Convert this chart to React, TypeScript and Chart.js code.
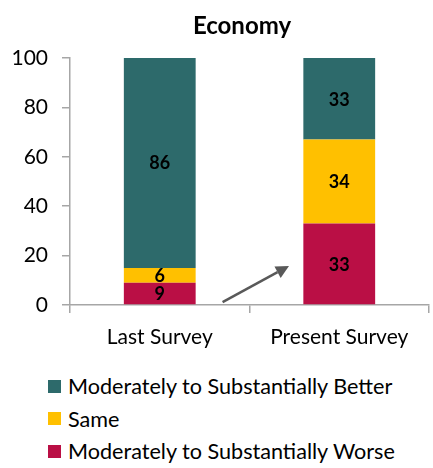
import React, { useEffect, useRef } from "react";
import { Chart, registerables } from "chart.js";

Chart.register(...registerables);

const TITLE = "Economy";
const CATEGORIES = ["Last Survey", "Present Survey"];
const SERIES_NAMES = [
  "Moderately to Substantially Worse",
  "Same",
  "Moderately to Substantially Better",
];
const WORSE = [9, 33];
const SAME = [6, 34];
const BETTER = [86, 33];
const COLORS = ["#BA0F45", "#FFC000", "#2D6A6B"];
const Y_TICKS = [0, 20, 40, 60, 80, 100];
// Trend arrow drawn in axis units: [category position, value]
const ARROW_FROM = [0.35, 1.2];
const ARROW_TO = [0.72, 15.8];

const FONT = "Lato, 'Open Sans', sans-serif";

const valueLabels = {
  id: "valueLabels",
  afterDatasetsDraw(chart: any) {
    const ctx = chart.ctx;
    ctx.save();
    ctx.font = `bold 18px ${FONT}`;
    ctx.fillStyle = "#000";
    ctx.textAlign = "center";
    ctx.textBaseline = "middle";
    chart.data.datasets.forEach((ds: any, i: number) => {
      const meta = chart.getDatasetMeta(i);
      meta.data.forEach((bar: any, j: number) => {
        const mid = (bar.y + bar.base) / 2;
        ctx.fillText(String(ds.data[j]), bar.x, mid + 1);
      });
    });
    ctx.restore();
  },
};

const trendArrow = {
  id: "trendArrow",
  afterDatasetsDraw(chart: any) {
    const { ctx, scales } = chart;
    const x1 = scales.x.getPixelForValue(ARROW_FROM[0]);
    const y1 = scales.y.getPixelForValue(ARROW_FROM[1]);
    const x2 = scales.x.getPixelForValue(ARROW_TO[0]);
    const y2 = scales.y.getPixelForValue(ARROW_TO[1]);
    const ang = Math.atan2(y2 - y1, x2 - x1);
    const head = 13;
    const half = 6.5;
    const bx = x2 - head * Math.cos(ang);
    const by = y2 - head * Math.sin(ang);
    ctx.save();
    ctx.strokeStyle = "#595959";
    ctx.fillStyle = "#595959";
    ctx.lineWidth = 2.5;
    ctx.beginPath();
    ctx.moveTo(x1, y1);
    ctx.lineTo(bx, by);
    ctx.stroke();
    ctx.beginPath();
    ctx.moveTo(x2, y2);
    ctx.lineTo(bx - half * Math.sin(ang), by + half * Math.cos(ang));
    ctx.lineTo(bx + half * Math.sin(ang), by - half * Math.cos(ang));
    ctx.closePath();
    ctx.fill();
    ctx.restore();
  },
};

const chartTitle = {
  id: "chartTitle",
  afterDraw(chart: any) {
    const ctx = chart.ctx;
    ctx.save();
    ctx.font = `bold 24px ${FONT}`;
    ctx.fillStyle = "#000";
    ctx.textAlign = "center";
    ctx.textBaseline = "middle";
    ctx.fillText(TITLE, 242, 26);
    ctx.restore();
  },
};

export default function App() {
  const canvasRef = useRef<HTMLCanvasElement | null>(null);

  useEffect(() => {
    if (!canvasRef.current) return;
    const chart = new Chart(canvasRef.current, {
      type: "bar",
      data: {
        labels: CATEGORIES,
        datasets: [
          { label: SERIES_NAMES[0], data: WORSE, backgroundColor: COLORS[0] },
          { label: SERIES_NAMES[1], data: SAME, backgroundColor: COLORS[1] },
          { label: SERIES_NAMES[2], data: BETTER, backgroundColor: COLORS[2] },
        ],
      },
      options: {
        responsive: false,
        animation: false,
        events: [],
        layout: { padding: { top: 58, right: 4, left: 0, bottom: 0 } },
        datasets: {
          bar: { categoryPercentage: 0.8, barPercentage: 0.5 },
        },
        plugins: {
          legend: { display: false },
          title: { display: false },
          tooltip: { enabled: false },
        },
        scales: {
          x: {
            stacked: true,
            afterFit: (s: any) => {
              s.height = 45;
            },
            border: { color: "#A6A6A6", width: 1.5 },
            grid: {
              offset: true,
              drawOnChartArea: false,
              tickLength: 8,
              color: "#A6A6A6",
              lineWidth: 1.5,
            },
            ticks: {
              color: "#000",
              padding: 12,
              font: { family: FONT, size: 21 },
            },
          },
          y: {
            stacked: true,
            min: 0,
            max: 100,
            afterFit: (s: any) => {
              s.width = 70;
            },
            afterBuildTicks: (s: any) => {
              s.ticks = Y_TICKS.map((v) => ({ value: v }));
            },
            border: { color: "#A6A6A6", width: 1.5 },
            grid: {
              drawOnChartArea: false,
              tickLength: 8,
              color: "#A6A6A6",
              lineWidth: 1.5,
            },
            ticks: {
              color: "#000",
              padding: 14,
              font: { family: FONT, size: 21 },
            },
          },
        },
      },
      plugins: [valueLabels, trendArrow, chartTitle],
    });
    return () => chart.destroy();
  }, []);

  const legendOrder = [2, 1, 0];

  return (
    <div
      style={{
        position: "absolute",
        left: 0,
        top: 0,
        width: 433,
        height: 468,
        background: "#fff",
      }}
    >
      <canvas ref={canvasRef} width={433} height={350} style={{ display: "block" }} />
      <div style={{ position: "absolute", left: 48, top: 370 }}>
        {legendOrder.map((i) => (
          <div
            key={i}
            style={{
              display: "flex",
              alignItems: "center",
              height: 32.5,
              fontFamily: FONT,
              fontSize: 21.6,
              color: "#000",
              whiteSpace: "nowrap",
            }}
          >
            <span
              style={{
                display: "inline-block",
                width: 13,
                height: 13,
                background: COLORS[i],
                marginRight: 7,
              }}
            />
            <span>{SERIES_NAMES[i]}</span>
          </div>
        ))}
      </div>
    </div>
  );
}
